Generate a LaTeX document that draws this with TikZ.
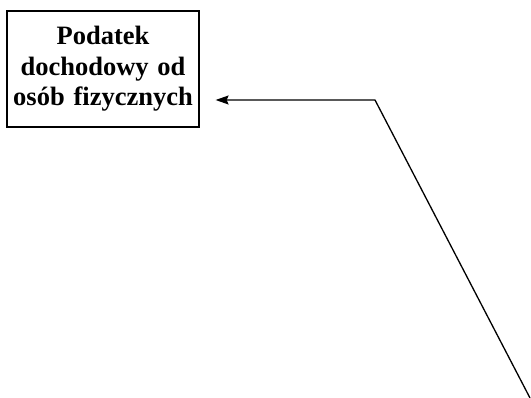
\documentclass[tikz,border=0pt]{standalone}
\usepackage{fontspec}
\setmainfont{Liberation Serif}
\usepackage{tikz}
\usetikzlibrary{arrows.meta, positioning}

\begin{document}
\begin{tikzpicture}[
        box/.style={rectangle, draw=black, line width=1.2pt, text width=186pt, align=center, minimum width=192pt, minimum height=116pt, inner sep=2pt, font=\fontsize{26.5}{30.5}\selectfont\bfseries},
        line/.style={draw, line width=1.3pt, -{Stealth[length=13pt, width=9pt, inset=2pt]}}
    ]
        \useasboundingbox (0,0) rectangle (531pt,398pt);
        \node [box] (pit) at (103pt,329pt) {Podatek\\dochodowy od\\osób fizycznych};
        \coordinate (start) at (530pt,0pt);
        \coordinate (bend) at (375pt,298pt);
        
        % line from the bottom edge up to the bend, then to the box
        \path [line] (start) -- (bend) -- ([xshift=16pt]pit.east |- bend);
    \end{tikzpicture}
\end{document}
